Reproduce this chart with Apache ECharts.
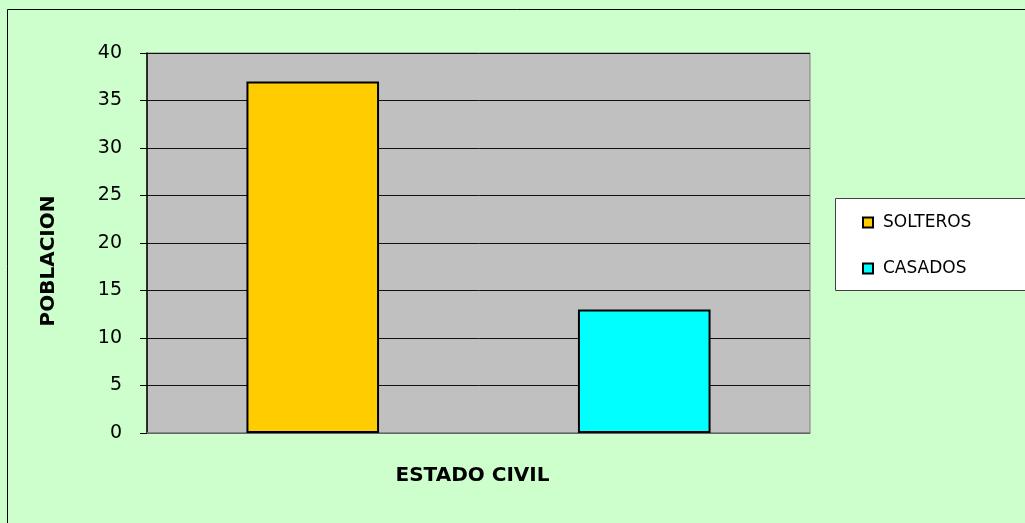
<!DOCTYPE html>
<html>
<head>
<meta charset="utf-8">
<script src="https://cdn.jsdelivr.net/npm/echarts@6/dist/echarts.min.js"></script>
<style>
  html, body { margin: 0; padding: 0; background: #ccffcc; }
  #chart { width: 1025px; height: 523px; }
</style>
</head>
<body>
<div id="chart"></div>
<script>
// datos
const categories = ["SOLTEROS", "CASADOS"];
const solteros = [37, "-"];
const casados = ["-", 13];
const yTicks = [0, 40, 5]; // min, max, interval

const chart = echarts.init(document.getElementById("chart"));
const font = "DejaVu Sans, Liberation Sans, sans-serif";

chart.setOption({
  backgroundColor: "#ccffcc",
  animation: false,
  textStyle: { fontFamily: font },
  graphic: [
    {
      type: "rect",
      shape: { x: 7.5, y: 9.5, width: 1100, height: 600 },
      style: { fill: "none", stroke: "#000", lineWidth: 1 },
      silent: true,
    },
    {
      type: "rect",
      shape: { x: 835.5, y: 198.5, width: 300, height: 92 },
      style: { fill: "#fff", stroke: "#404040", lineWidth: 1 },
      silent: true,
      z: 0,
    },
  ],
  grid: {
    left: 147,
    top: 53,
    width: 663,
    height: 380,
    show: true,
    backgroundColor: "#c0c0c0",
    borderColor: "#808080",
    borderWidth: 1,
  },
  legend: {
    orient: "vertical",
    left: 862,
    top: 214,
    padding: 0,
    itemWidth: 10,
    itemHeight: 10,
    itemGap: 29,
    icon: "rect",
    z: 5,
    textStyle: { fontFamily: font, fontSize: 17, color: "#000", padding: [0, 0, 0, 5] },
    data: categories,
  },
  xAxis: {
    type: "category",
    data: categories,
    name: "ESTADO CIVIL",
    nameLocation: "middle",
    nameGap: 33,
    nameTextStyle: { fontFamily: font, fontSize: 20, fontWeight: "bold", color: "#000", padding: [0, 12, 0, 0] },
    axisLabel: { show: false },
    axisTick: { show: false },
    axisLine: { lineStyle: { color: "#808080", width: 1.5 } },
  },
  yAxis: {
    type: "value",
    min: yTicks[0],
    max: yTicks[1],
    interval: yTicks[2],
    name: "POBLACION",
    nameLocation: "middle",
    nameRotate: 90,
    nameGap: 88,
    nameTextStyle: { fontFamily: font, fontSize: 20, fontWeight: "bold", color: "#000", padding: [0, 36, 0, 0] },
    axisLine: { show: true, lineStyle: { color: "#000", width: 1.5 } },
    axisTick: { show: true, length: 7, lineStyle: { color: "#000" } },
    axisLabel: { margin: 25, fontFamily: font, fontSize: 19, color: "#000" },
    splitLine: { lineStyle: { color: "#111", width: 1 } },
  },
  series: [
    {
      name: "SOLTEROS",
      type: "bar",
      stack: "total",
      barWidth: "40%",
      data: solteros,
      itemStyle: { color: "#ffcc00", borderColor: "#000", borderWidth: 2 },
    },
    {
      name: "CASADOS",
      type: "bar",
      stack: "total",
      barWidth: "40%",
      data: casados,
      itemStyle: { color: "#00ffff", borderColor: "#000", borderWidth: 2 },
    },
  ],
});
</script>
</body>
</html>
